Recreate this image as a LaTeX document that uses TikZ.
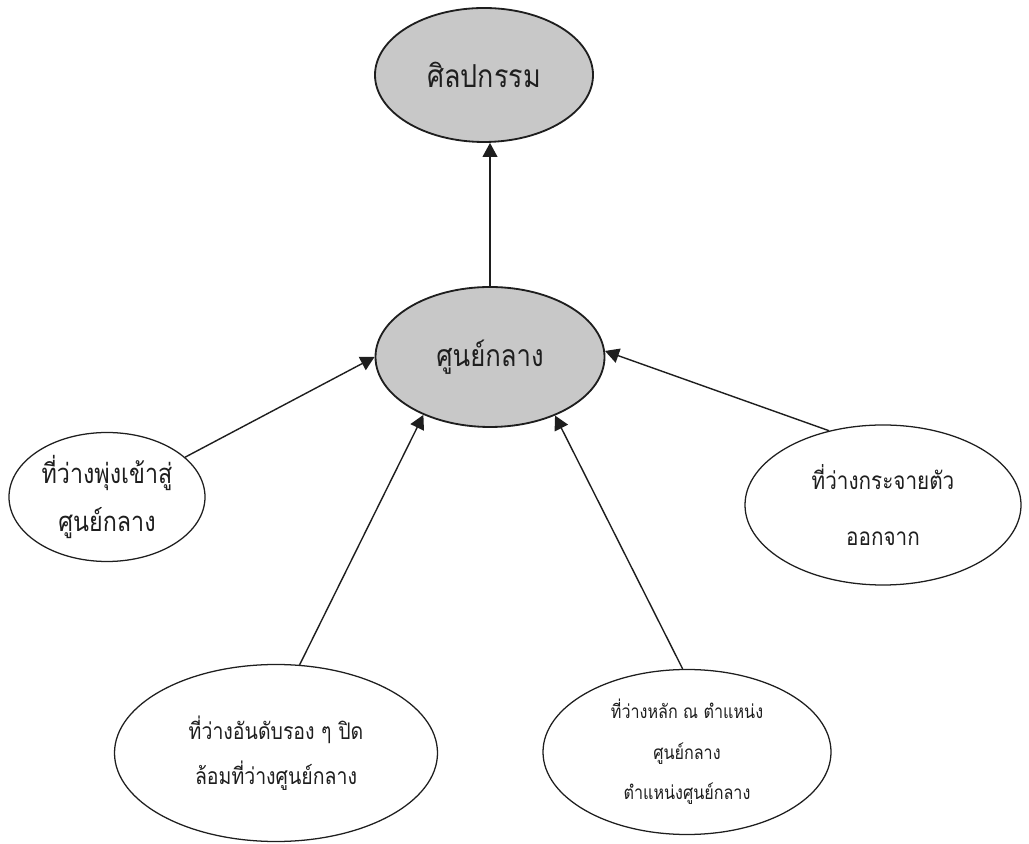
\documentclass[tikz,border=0pt]{standalone}
\usepackage{fontspec}
\newfontfamily\thaifont[Script=Thai, FakeStretch=0.85]{Loma}
\usepackage{tikz}
\usetikzlibrary{arrows.meta, shapes.geometric}
\definecolor{artGrey}{HTML}{C8C8C8}
\definecolor{artInk}{HTML}{1E1E1E}

\begin{document}
\begin{tikzpicture}[
    core/.style={ellipse, draw=artInk, line width=1.3pt, fill=artGrey,
                 inner sep=0pt, align=center, text=artInk},
    space/.style={ellipse, draw=artInk, line width=0.9pt, fill=white,
                  inner sep=0pt, align=center, text=artInk},
    flow/.style={draw=artInk, line width=1pt,
                 -{Triangle[length=3.5mm, width=3.7mm]}},
  ]
    \useasboundingbox (0,0) rectangle (25.725,21.075);

    % main ellipses
    \node[core, minimum width=5.45cm, minimum height=3.35cm,
          font=\thaifont\fontsize{22.5}{28}\selectfont] (art) at (12.10,19.20)
      {ศิลปกรรม};
    \node[core, minimum width=5.725cm, minimum height=3.5cm,
          font=\thaifont\fontsize{21.5}{28}\selectfont] (centre) at (12.25,12.15)
      {ศูนย์กลาง};

    % kinds of space
    \node[space, minimum width=4.9cm, minimum height=3.225cm,
          font=\thaifont\fontsize{19.5}{34.5}\selectfont] (rush) at (2.675,8.65)
      {ที่ว่างพุ่งเข้าสู่\\ศูนย์กลาง};
    \node[space, minimum width=6.9cm, minimum height=4.0cm,
          font=\thaifont\fontsize{17.3}{40}\selectfont] (spread) at (22.075,8.45)
      {ที่ว่างกระจายตัว\\ออกจาก};
    \node[space, minimum width=8.075cm, minimum height=4.425cm,
          font=\thaifont\fontsize{16.3}{32}\selectfont] (ring) at (6.9,2.25)
      {ที่ว่างอันดับรอง ๆ ปิด\\ล้อมที่ว่างศูนย์กลาง};
    \node[space, minimum width=7.2cm, minimum height=4.125cm,
          font=\thaifont\fontsize{13.5}{28.7}\selectfont] (main) at (17.175,2.275)
      {ที่ว่างหลัก ณ ตำแหน่ง\\ศูนย์กลาง\\ตำแหน่งศูนย์กลาง};

    \draw[flow] (centre.north) -- (centre.north |- art.south);
    \draw[flow] (rush.27) -- (centre.180);
    \draw[flow] (ring.75) -- (centre.221);
    \draw[flow] (main.93) -- (centre.318);
    \draw[flow] (spread.126) -- (centre.3);
  \end{tikzpicture}
\end{document}
